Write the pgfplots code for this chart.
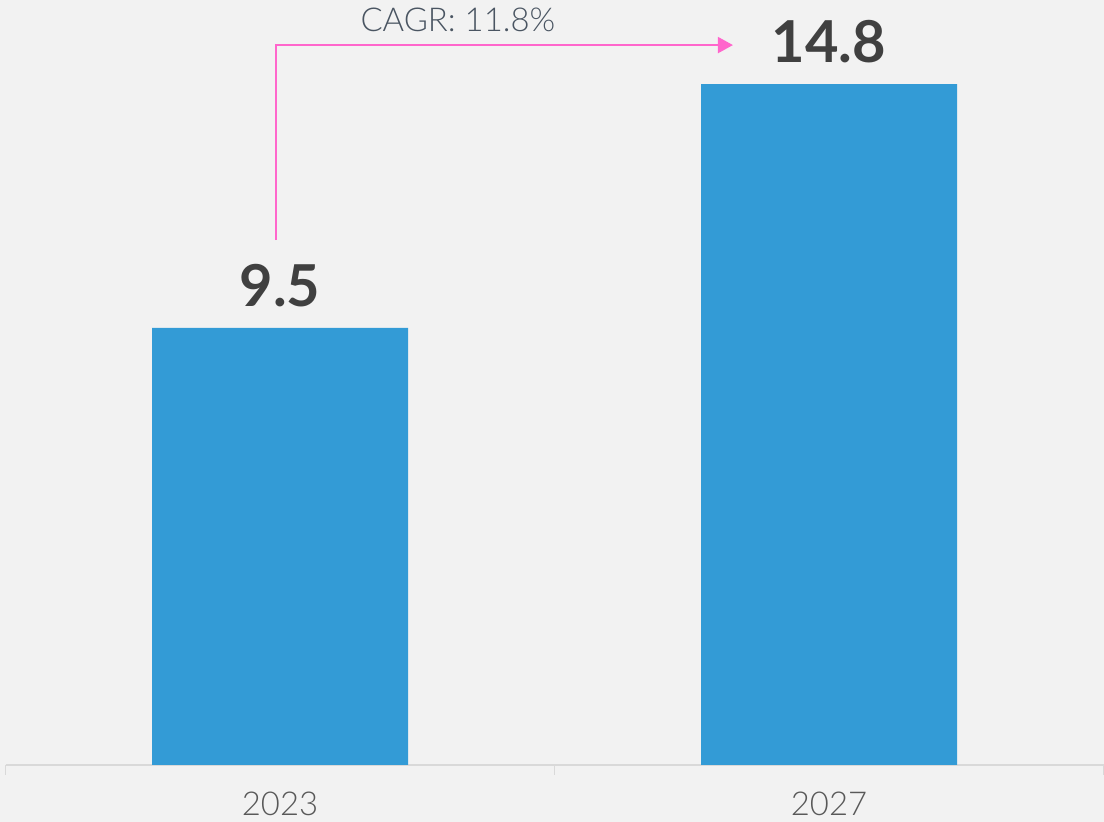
\documentclass[border=0pt]{standalone}
\usepackage{fontspec}
\setmainfont{Lato}
\newfontfamily\lightfont{Lato Light}
\usepackage{pgfplots}
\pgfplotsset{compat=1.18}
\usetikzlibrary{arrows.meta}
\definecolor{bg}{HTML}{F2F2F2}
\definecolor{barblue}{HTML}{339BD6}
\definecolor{numgray}{HTML}{404040}
\definecolor{labgray}{HTML}{595959}
\definecolor{cagrtxt}{HTML}{4A5562}
\definecolor{pinkline}{HTML}{FF66CC}
\definecolor{axgray}{HTML}{D9D9D9}
\begin{document}
\begin{tikzpicture}
\fill[bg] (0,0) rectangle (1104bp,822bp);
\begin{axis}[
  at={(5.5bp,57bp)}, anchor=south west,
  scale only axis, width=1098bp, height=765bp,
  xmin=-0.5, xmax=1.5, ymin=0, ymax=16.63,
  axis y line=none, axis x line*=bottom,
  x axis line style={draw=axgray, line width=1.5bp, -},
  /pgf/number format/assume math mode=true,
  xtick={0,1}, xticklabels={2023,2027},
  major tick length=0pt,
  extra x ticks={-0.5,0.5,1.5}, extra x tick labels={},
  extra x tick style={major tick length=10bp, tick align=outside, tick style={draw=axgray, line width=1.5bp}},
  xticklabel style={font=\lightfont\fontsize{33}{33}\selectfont, text=labgray, anchor=north, inner sep=0pt, yshift=-27bp},
  ybar, bar width=256bp,
  nodes near coords, nodes near coords style={font=\bfseries\fontsize{58}{58}\selectfont, text=numgray, anchor=south, inner sep=0pt, yshift=21bp},
  clip=false,
]
\addplot[fill=barblue, draw=none] coordinates {(0,9.5) (1,14.8)};
\draw[pinkline, line width=2bp, -{Triangle[length=15bp,width=16bp]}] (axis cs:-0.007,11.41) |- (axis cs:0.825,15.65);
\node[font=\lightfont\fontsize{33}{33}\selectfont, text=cagrtxt] at (axis cs:0.324,16.2) {CAGR: 11.8\%};
\end{axis}
\pgfresetboundingbox
\path (0,0) rectangle (1104bp,822bp);
\end{tikzpicture}
\end{document}
